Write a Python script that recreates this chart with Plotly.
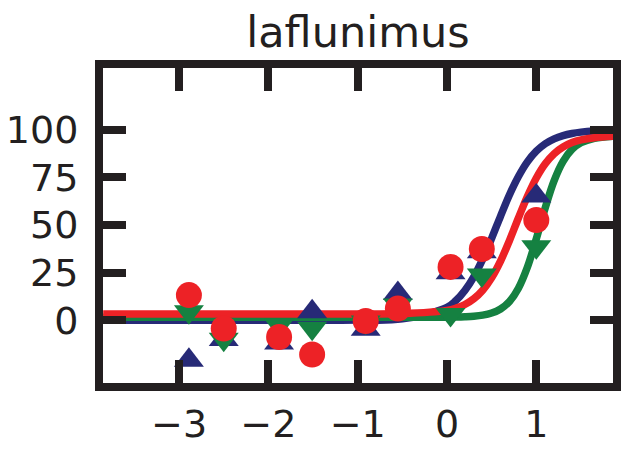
import plotly.graph_objects as go

# Data (log concentration vs response)
dose = [-2.89, -2.50, -1.88, -1.51, -0.91, -0.55, 0.04, 0.39, 1.00]
navy_pts = [-21.0, -10.2, -12.0, 4.4, -4.7, 14.0, 24.9, 36.0, 65.3]
green_pts = [4.4, -10.0, -2.6, -4.3, -1.0, 8.0, 3.0, 23.7, 38.6]
red_pts = [13.2, -4.4, -8.8, -18.0, -0.4, 6.1, 28.0, 37.4, 52.6]

# Fitted curves
curve_x = [-3.85, -2.0, -1.0, -0.5, 0.0, 0.1, 0.2, 0.3, 0.4, 0.5, 0.6, 0.7,
           0.8, 0.9, 1.0, 1.1, 1.2, 1.3, 1.4, 1.5, 1.65, 1.86]
navy_curve = [0.0, 0.0, 0.07, 0.68, 6.7, 10.3, 15.6, 22.8, 32.1, 43.0, 54.7, 65.9,
              75.5, 83.2, 88.8, 92.7, 95.3, 97.0, 98.1, 98.8, 99.4, 99.8]
red_curve = [3.3, 3.3, 3.3, 3.45, 5.16, 6.34, 8.24, 11.23, 15.76, 22.3, 31.1, 41.9,
             53.7, 65.0, 74.7, 82.2, 87.5, 91.0, 93.3, 94.7, 95.9, 96.6]
green_curve = [1.5, 1.5, 1.5, 1.5, 1.57, 1.64, 1.79, 2.07, 2.63, 3.74, 5.86, 9.83,
               16.8, 27.8, 42.7, 59.0, 73.3, 83.4, 89.7, 93.2, 95.6, 96.7]

x_ticks = [-3, -2, -1, 0, 1]
y_ticks = [0, 25, 50, 75, 100]
title_text = "laflunimus"

NAVY = "#272a77"
RED = "#ed2226"
GREEN = "#158141"
INK = "#231f20"

fig = go.Figure()
for ys, col in [(navy_curve, NAVY), (green_curve, GREEN), (red_curve, RED)]:
    fig.add_trace(go.Scatter(x=curve_x, y=ys, mode="lines",
                             line=dict(color=col, width=7.5, shape="spline"),
                             showlegend=False, hoverinfo="skip"))

fig.add_trace(go.Scatter(x=dose, y=navy_pts, mode="markers",
                         marker=dict(symbol="triangle-up", size=26, color=NAVY),
                         showlegend=False))
fig.add_trace(go.Scatter(x=dose, y=green_pts, mode="markers",
                         marker=dict(symbol="triangle-down", size=26, color=GREEN),
                         showlegend=False))
fig.add_trace(go.Scatter(x=dose, y=red_pts, mode="markers",
                         marker=dict(symbol="circle", size=26, color=RED),
                         showlegend=False))

axis_common = dict(
    showline=True, linewidth=8, linecolor=INK, mirror="ticks",
    ticks="inside", ticklen=23, tickwidth=8, tickcolor=INK,
    showgrid=False, zeroline=False, automargin=False,
    tickfont=dict(family="DejaVu Sans", size=38, color=INK),
)

fig.update_xaxes(range=[-3.852, 1.859], tickvals=x_ticks, **axis_common)
fig.update_yaxes(range=[-33.0, 132.5], tickvals=y_ticks, ticklabelstandoff=9,
                 **axis_common)

fig.update_layout(
    width=621, height=454,
    margin=dict(l=103, r=8, t=68, b=71),
    paper_bgcolor="white", plot_bgcolor="white",
    title=dict(text=title_text, x=0.5, xref="paper", xanchor="center",
               y=1 - 31.5 / 454, yref="container", yanchor="middle",
               font=dict(family="DejaVu Sans", size=43, color=INK)),
)

fig.write_html("out.html")
